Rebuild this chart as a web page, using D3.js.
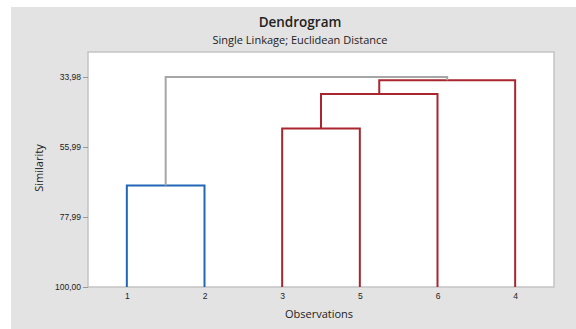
<!DOCTYPE html>
<html>
<head>
<meta charset="utf-8">
<script src="https://cdn.jsdelivr.net/npm/d3@7"></script>
<style>
  body { margin: 0; background: #fff; }
  svg { display: block; font-family: "Open Sans", "Noto Sans", sans-serif; }
</style>
</head>
<body>
<div id="chart"></div>
<script>
// leaves in display order
const observations = ["1", "2", "3", "5", "6", "4"];
// merges: [left node, right node, similarity]; new node ids are c0, c1, ...
const mergeLeft = ["1", "3", "c1", "c2", "c0"];
const mergeRight = ["2", "5", "6", "4", "c3"];
const mergeSimilarity = [68.12, 50.2, 39.33, 35.02, 33.98];
const mergeGroup = ["blue", "red", "red", "red", "top"];
const yTicks = [33.98, 55.99, 77.99, 100.0];

const W = 576, H = 329;
const margin = { top: 52, right: 22, bottom: 42, left: 88 };
const width = 554 - margin.left;
const height = 287 - margin.top;

const svg = d3.select("#chart").append("svg")
  .attr("width", W).attr("height", H);

svg.append("rect")
  .attr("x", 11).attr("y", 7)
  .attr("width", W - 11).attr("height", H - 7)
  .attr("fill", "#e3e3e3");

svg.append("text")
  .attr("x", 300).attr("y", 27)
  .attr("text-anchor", "middle")
  .style("font-size", "13.5px").style("font-weight", 600).style("fill", "#222")
  .text("Dendrogram");
svg.append("text")
  .attr("x", 300).attr("y", 44)
  .attr("text-anchor", "middle")
  .style("font-size", "11px").style("fill", "#222")
  .text("Single Linkage; Euclidean Distance");

const g = svg.append("g").attr("transform", `translate(${margin.left},${margin.top})`);

g.append("rect")
  .attr("width", width).attr("height", height)
  .attr("fill", "#fff")
  .attr("stroke", "#c4c4c4").attr("stroke-width", 1.5);

const x = d3.scalePoint().domain(observations).range([0, width]).padding(0.5);
const y = d3.scaleLinear().domain([100, 33.98]).range([height, 25]);

const colors = { blue: "#2166b8", red: "#a9262e", top: "#a6a6a6" };

// node positions
const pos = {};
observations.forEach(o => pos[o] = { x: x(o), y: y(100) });

const segs = [];
mergeLeft.forEach((l, i) => {
  const r = mergeRight[i];
  const yy = y(mergeSimilarity[i]);
  const a = pos[l], b = pos[r];
  segs.push({ d: `M${a.x},${a.y}V${yy}H${b.x}V${b.y}`, c: colors[mergeGroup[i]], i });
  pos["c" + i] = { x: (a.x + b.x) / 2, y: yy };
});

g.selectAll(".link")
  .data(segs)
  .join("path")
  .attr("class", "link")
  .attr("d", d => d.d)
  .attr("fill", "none")
  .attr("stroke", d => d.c)
  .attr("stroke-width", 2);

g.append("g")
  .attr("transform", `translate(0,${height})`)
  .style("font-size", "8.5px")
  .call(d3.axisBottom(x).tickSize(0).tickPadding(6))
  .call(s => s.select(".domain").remove())
  .call(s => s.selectAll("text").attr("fill", "#222"));

g.append("g")
  .style("font-size", "8.5px")
  .call(d3.axisLeft(y).tickValues(yTicks).tickSize(5).tickPadding(2)
    .tickFormat(d => d3.format(".2f")(d).replace(".", ",")))
  .call(s => s.select(".domain").remove())
  .call(s => s.selectAll("line").attr("stroke", "#999"))
  .call(s => s.selectAll("text").attr("fill", "#222"));

svg.append("text")
  .attr("x", 319).attr("y", 318)
  .attr("text-anchor", "middle")
  .style("font-size", "11px").style("fill", "#222")
  .text("Observations");

svg.append("text")
  .attr("transform", "translate(43,168) rotate(-90)")
  .attr("text-anchor", "middle")
  .style("font-size", "11px").style("fill", "#222")
  .text("Similarity");
</script>
</body>
</html>
